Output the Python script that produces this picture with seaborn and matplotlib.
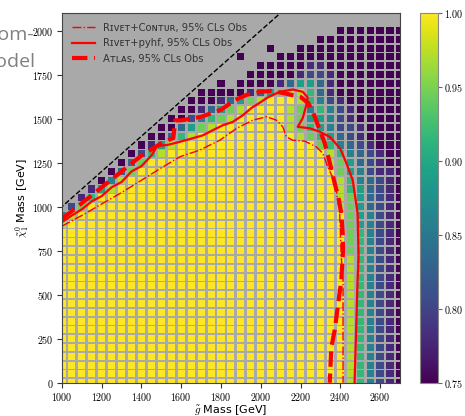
import numpy as np
import pandas as pd
import matplotlib
matplotlib.use("Agg")
import matplotlib.pyplot as plt
import seaborn as sns
from matplotlib.ticker import FuncFormatter, FixedLocator

# grid of signal points (GeV)
gluino_mass = list(range(1000, 2701, 50))      # 35 columns
neutralino_mass = list(range(2000, -1, -50))   # 41 rows, top first

# CLs, one string per row (top row first),
# right-aligned to the 2700 column; '.' = no point, digit d -> 0.75 + 0.25*d/9
cls_rows = [
    "0000000",
    "000000000",
    "0..00000000000",
    "0...0000000000000",
    "000001100000000",
    "0000012210000000",
    "0.00001355310000000",
    "000001357886310000000",
    "0001357899986421000000",
    "00135789999874642100000",
    "002467899999875542100000",
    "0035789999999876542210000",
    "00368" + "9999999999" + "87653210000",
    "0158" + "99999999999999" + "764321000",
    "0268" + "9999999999999999" + "86432100",
    "037" + "999999999999999999" + "87532100",
    "037" + "99999999999999999999" + "7542110",
    "048" + "999999999999999999999" + "8643210",
    "158" + "9999999999999999999999" + "8653210",
    "16" + "999999999999999999999999" + "8753210",
    "27" + "9999999999999999999999999" + "8753210",
    "48" + "999999999999999999999999999" + "754210",
    "8" + "9999999999999999999999999999" + "754210",
    "99999999999999999999999999999" + "764210",
    "99999999999999999999999999999" + "764210",
    "99999999999999999999999999999" + "764210",
] + ["99999999999999999999999999999" + "864210"] * 15

# 95% CLs exclusion contours (gluino, neutralino) in GeV
contur_x = [1000, 1100, 1200, 1300, 1400, 1500, 1593, 1693, 1794, 1878, 1960, 2029, 2079,
            2111, 2129, 2161, 2221, 2280, 2312, 2337, 2360, 2380, 2397, 2405, 2414, 2414]
contur_y = [889, 950, 1015, 1080, 1150, 1220, 1283, 1321, 1377, 1444, 1491, 1510, 1491,
            1453, 1396, 1377, 1372, 1339, 1303, 1226, 1170, 1094, 962, 715, 583, 0]

pyhf_x = [1000, 1050, 1100, 1150, 1200, 1250, 1300, 1350, 1400, 1450, 1480, 1530, 1593,
          1660, 1709, 1759, 1809, 1859, 1910, 1953, 1995, 2035, 2095, 2161, 2211, 2236,
          2230, 2211, 2186, 2246, 2297, 2347, 2400, 2431, 2463, 2487, 2492, 2487, 2472]
pyhf_y = [912, 950, 985, 1030, 1060, 1110, 1140, 1200, 1230, 1290, 1345, 1350, 1368,
          1389, 1405, 1434, 1462, 1481, 1519, 1560, 1590, 1620, 1652, 1665, 1652, 1620,
          1580, 1502, 1453, 1445, 1425, 1396, 1330, 1246, 1149, 962, 715, 583, 0]

atlas_x = [1000, 1100, 1200, 1300, 1400, 1500, 1560, 1570, 1600, 1700, 1800, 1870, 1930,
           2000, 2050, 2100, 2200, 2240, 2265, 2297, 2322, 2347, 2372, 2390, 2405, 2412,
           2414, 2405, 2372, 2355, 2347]
atlas_y = [930, 1020, 1110, 1200, 1290, 1360, 1390, 1490, 1490, 1510, 1550, 1605, 1635,
           1652, 1657, 1648, 1623, 1587, 1530, 1434, 1360, 1250, 1132, 1056, 963, 850,
           750, 580, 300, 200, 0]

recs = []
for mlsp, row in zip(neutralino_mass, cls_rows):
    row = row.rjust(len(gluino_mass), ".")
    for mg, c in zip(gluino_mass, row):
        if c != ".":
            recs.append((mg, mlsp, 0.75 + 0.25 * int(c) / 9))
df = pd.DataFrame(recs, columns=["m_gluino", "m_lsp", "cls"])

plt.rcParams["mathtext.fontset"] = "cm"
fig = plt.figure(figsize=(4.65, 4.16), dpi=100)
ax = fig.add_axes([0.1333, 0.080, 0.7267, 0.889])
cax = fig.add_axes([0.903, 0.080, 0.039, 0.889])
ax.set_facecolor("#a9a9a9")

sns.scatterplot(data=df, x="m_gluino", y="m_lsp", hue="cls", palette="viridis",
                hue_norm=(0.75, 1.0), marker="s", s=26, linewidth=0, legend=False, ax=ax)

ax.plot([0, 2700], [0, 2700], color="black", ls="--", lw=1.0)
ax.plot(contur_x, contur_y, color="red", ls="-.", lw=1.0,
        label="Rɪᴠᴇᴛ+Cᴏɴᴛᴜʀ, 95% CLs Obs")
ax.plot(pyhf_x, pyhf_y, color="red", ls="-", lw=1.6,
        label="Rɪᴠᴇᴛ+pyhf, 95% CLs Obs")
ax.plot(atlas_x, atlas_y, color="red", ls="--", lw=3.0,
        label="Aᴛʟᴀꜱ, 95% CLs Obs")

ax.set_xlim(1000, 2700)
ax.set_ylim(0, 2100)
ax.xaxis.set_major_locator(FixedLocator(list(range(1000, 2700, 200))))
ax.yaxis.set_major_locator(FixedLocator(list(range(0, 2001, 250))))
fmt = FuncFormatter(lambda v, p: r"$%d$" % v)
ax.xaxis.set_major_formatter(fmt)
ax.yaxis.set_major_formatter(fmt)
ax.tick_params(labelsize=7.2, length=3.5, pad=2.5, color="#333333")
ax.set_xlabel(r"$\tilde{g}$ Mass [GeV]", fontsize=8, labelpad=0)
ax.set_ylabel(r"$\tilde{\chi}_1^0$ Mass [GeV]", fontsize=8, labelpad=1)
for sp in ax.spines.values():
    sp.set_color("#444444")

leg = ax.legend(loc="upper left", frameon=False, fontsize=7.2, handlelength=2.3,
                borderaxespad=0.6, labelspacing=0.55)
for t in leg.get_texts():
    t.set_color("#333333")

sm = plt.cm.ScalarMappable(cmap="viridis", norm=plt.Normalize(0.75, 1.0))
cb = fig.colorbar(sm, cax=cax)
cb.set_ticks([0.75, 0.80, 0.85, 0.90, 0.95, 1.00])
cb.ax.yaxis.set_major_formatter(FuncFormatter(lambda v, p: r"$%.2f$" % v))
cb.ax.tick_params(labelsize=7.2, length=3, pad=1.5, color="#666666")
cb.outline.set_edgecolor("#888888")

# slide text cut off by the crop on the left
fig.text(34 / 465, 1 - 40 / 416, "Custom-", ha="right", va="baseline",
         fontsize=14, color="#808080", family="Open Sans")
fig.text(35 / 465, 1 - 67 / 416, "model", ha="right", va="baseline",
         fontsize=14, color="#808080", family="Open Sans")

fig.savefig("out.png", dpi=100)
